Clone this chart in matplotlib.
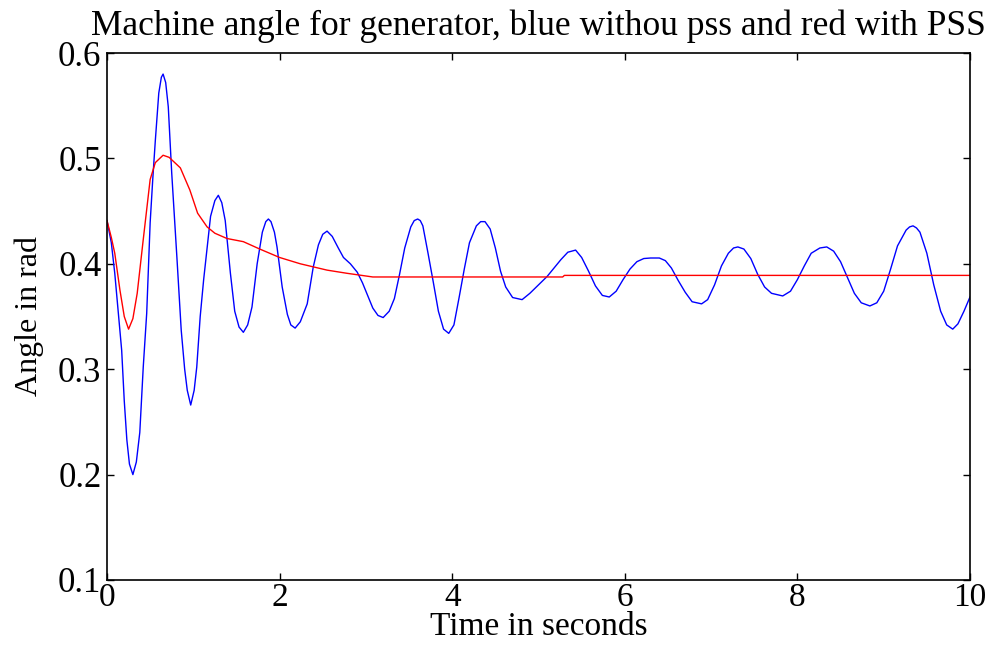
import matplotlib
matplotlib.use("Agg")
import matplotlib.pyplot as plt

# Blue: without PSS
blue_t = [0.00, 0.05, 0.09, 0.13, 0.17, 0.20, 0.23, 0.26, 0.30, 0.34, 0.38, 0.42, 0.46, 0.50,
          0.53, 0.56, 0.60, 0.63, 0.65, 0.68, 0.71, 0.75, 0.81, 0.86, 0.90, 0.93, 0.97, 1.01, 1.04, 1.08,
          1.12, 1.16, 1.20, 1.25, 1.29, 1.33, 1.37, 1.43, 1.48, 1.53, 1.58, 1.63, 1.68, 1.74,
          1.80, 1.84, 1.87, 1.90, 1.94, 1.97, 2.03, 2.09, 2.13, 2.18, 2.24, 2.32, 2.39, 2.45, 2.50, 2.55,
          2.61, 2.68, 2.74, 2.82, 2.90, 2.96, 3.01, 3.08, 3.14, 3.20, 3.27, 3.33, 3.39, 3.45,
          3.52, 3.56, 3.60, 3.63, 3.66, 3.72, 3.78, 3.84, 3.90, 3.96, 4.02, 4.08, 4.14, 4.20, 4.28, 4.33, 4.38,
          4.44, 4.50, 4.56, 4.62, 4.70, 4.81, 4.90, 5.00, 5.10, 5.18, 5.26, 5.34, 5.43, 5.50,
          5.58, 5.66, 5.74, 5.82, 5.90, 5.98, 6.06, 6.14, 6.22, 6.30, 6.40, 6.47, 6.54, 6.62,
          6.70, 6.78, 6.89, 6.96, 7.04, 7.12, 7.20, 7.26, 7.31, 7.38, 7.46, 7.54, 7.62, 7.70, 7.83,
          7.92, 8.00, 8.08, 8.16, 8.26, 8.34, 8.42, 8.50, 8.58, 8.66, 8.74, 8.84, 8.92, 9.00,
          9.08, 9.16, 9.26, 9.30, 9.34, 9.38, 9.42, 9.50, 9.58, 9.66, 9.73, 9.80, 9.86, 9.93, 10.00]
blue_v = [0.441, 0.420, 0.391, 0.355, 0.318, 0.270, 0.233, 0.210, 0.200, 0.212, 0.240, 0.302, 0.353, 0.439,
          0.480, 0.517, 0.562, 0.577, 0.580, 0.572, 0.549, 0.486, 0.406, 0.337, 0.300, 0.280, 0.266, 0.280, 0.302, 0.350,
          0.385, 0.415, 0.445, 0.460, 0.465, 0.458, 0.441, 0.391, 0.355, 0.340, 0.335, 0.342, 0.359, 0.400,
          0.430, 0.440, 0.4425, 0.440, 0.430, 0.416, 0.378, 0.352, 0.342, 0.339, 0.345, 0.362, 0.397, 0.418, 0.428, 0.431,
          0.426, 0.415, 0.406, 0.400, 0.392, 0.382, 0.372, 0.358, 0.351, 0.349, 0.355, 0.367, 0.390, 0.415,
          0.435, 0.441, 0.4425, 0.441, 0.436, 0.410, 0.383, 0.355, 0.338, 0.334, 0.342, 0.368, 0.395, 0.420, 0.436, 0.440, 0.440,
          0.433, 0.415, 0.393, 0.378, 0.368, 0.366, 0.372, 0.380, 0.388, 0.396, 0.404, 0.411, 0.413, 0.406,
          0.393, 0.379, 0.370, 0.3685, 0.374, 0.385, 0.395, 0.402, 0.405, 0.4055, 0.4055, 0.403, 0.396, 0.384,
          0.373, 0.364, 0.362, 0.366, 0.380, 0.398, 0.410, 0.415, 0.416, 0.414, 0.405, 0.390, 0.378, 0.372, 0.3695,
          0.374, 0.385, 0.398, 0.410, 0.415, 0.416, 0.412, 0.402, 0.387, 0.372, 0.363, 0.360, 0.363, 0.374,
          0.395, 0.417, 0.432, 0.435, 0.436, 0.434, 0.430, 0.410, 0.380, 0.355, 0.342, 0.338, 0.343, 0.355, 0.3685]

# Red: with PSS
red_t = [0.00, 0.05, 0.09, 0.15, 0.20, 0.25, 0.30, 0.35, 0.42, 0.50, 0.56, 0.65, 0.72, 0.85,
         0.96, 1.05, 1.16, 1.25, 1.39, 1.58, 1.77, 2.00, 2.24, 2.55, 2.78, 3.08, 5.28, 5.30, 10.0]
red_v = [0.441, 0.425, 0.410, 0.375, 0.350, 0.338, 0.348, 0.372, 0.423, 0.480, 0.496, 0.503, 0.501, 0.491,
         0.470, 0.448, 0.435, 0.429, 0.424, 0.421, 0.414, 0.406, 0.400, 0.394, 0.391, 0.3875, 0.3875, 0.389, 0.389]

x_ticks = [0, 2, 4, 6, 8, 10]
y_ticks = [0.1, 0.2, 0.3, 0.4, 0.5, 0.6]

plt.rcParams['font.family'] = ['Liberation Serif', 'DejaVu Serif']

fig = plt.figure(figsize=(10.05, 6.5), dpi=100)
ax = fig.add_axes([107 / 1005, 1 - 580 / 650, (970 - 107) / 1005, (580 - 53) / 650])

ax.plot(blue_t, blue_v, color='#0000ff', lw=1.0)
ax.plot(red_t, red_v, color='#ff0000', lw=1.0)

ax.set_xlim(0, 10)
ax.set_ylim(0.1, 0.6)
ax.set_xticks(x_ticks)
ax.set_xticklabels([str(v) for v in x_ticks])
ax.set_yticks(y_ticks)
ax.set_yticklabels([f"{v:.1f}" for v in y_ticks])
ax.tick_params(direction='in', top=True, right=True, length=5, width=1,
               labelsize=25, pad=4)
ax.tick_params(axis='x', pad=2, labelsize=24)
for s in ax.spines.values():
    s.set_linewidth(1.2)

ax.set_title("Machine angle for generator, blue withou pss and red with PSS",
             fontsize=25.5, pad=13)
ax.set_xlabel("Time in seconds", fontsize=24, labelpad=-1)
ax.set_ylabel("Angle in rad", fontsize=23, labelpad=10)

fig.savefig("out.png", dpi=100)
